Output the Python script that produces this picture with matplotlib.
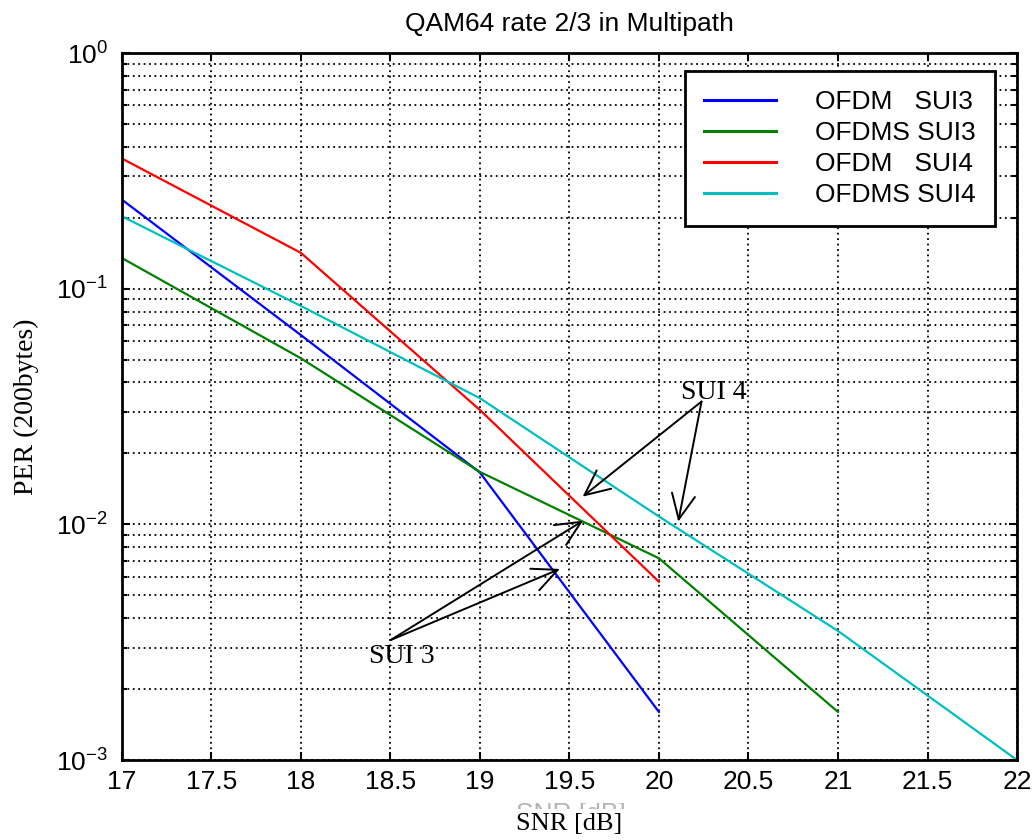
import numpy as np
import matplotlib
matplotlib.use('Agg')
import matplotlib.pyplot as plt
from matplotlib.ticker import FixedLocator, FormatStrFormatter, LogLocator
from matplotlib.transforms import Bbox, TransformedBbox

plt.rcParams['font.family'] = 'Liberation Sans'
plt.rcParams['mathtext.fontset'] = 'custom'
plt.rcParams['mathtext.rm'] = 'Liberation Sans'
plt.rcParams['mathtext.default'] = 'regular'

# data
snr_ofdm_sui3 = [17, 18, 19, 20]
per_ofdm_sui3 = [0.239, 0.0636, 0.0166, 0.0016]

snr_ofdms_sui3 = [17, 18, 19, 20, 21]
per_ofdms_sui3 = [0.135, 0.0507, 0.0167, 0.00718, 0.0016]

snr_ofdm_sui4 = [17, 18, 19, 20]
per_ofdm_sui4 = [0.357, 0.142, 0.0306, 0.00571]

snr_ofdms_sui4 = [17, 18, 19, 20, 21, 22]
per_ofdms_sui4 = [0.203, 0.0845, 0.0343, 0.0108, 0.00353, 0.001]

labels = ['OFDM   SUI3', 'OFDMS SUI3', 'OFDM   SUI4', 'OFDMS SUI4']
colors = ['#0000ff', '#008000', '#ff0000', '#00bfbf']

xticks = np.arange(17, 22.01, 0.5)

fig = plt.figure(figsize=(10.36, 8.4), dpi=100)
ax = fig.add_axes([0.1175, 0.0952, 0.8642, 0.8417])

ax.plot(snr_ofdm_sui3, per_ofdm_sui3, color=colors[0], lw=1.6, label=labels[0])
ax.plot(snr_ofdms_sui3, per_ofdms_sui3, color=colors[1], lw=1.6, label=labels[1])
ax.plot(snr_ofdm_sui4, per_ofdm_sui4, color=colors[2], lw=1.6, label=labels[2])
ax.plot(snr_ofdms_sui4, per_ofdms_sui4, color=colors[3], lw=1.6, label=labels[3])

ax.set_yscale('log')
ax.set_xlim(17, 22)
ax.set_ylim(1e-3, 1)
ax.xaxis.set_major_locator(FixedLocator(xticks))
ax.xaxis.set_major_formatter(FormatStrFormatter('%g'))
ax.yaxis.set_major_locator(LogLocator(base=10, numticks=10))
ax.yaxis.set_minor_locator(LogLocator(base=10, subs=np.arange(2, 10), numticks=20))

ax.grid(True, which='major', axis='x', color='black', linestyle=(0, (1, 2)), lw=1.3)
ax.grid(True, which='both', axis='y', color='black', linestyle=(0, (1, 2)), lw=1.3)

ax.tick_params(which='both', direction='in', top=True, right=True, width=1.5,
               labelsize=19, colors='black')
ax.tick_params(which='major', length=6, pad=7)
ax.tick_params(axis='y', which='major', pad=10)
ax.tick_params(which='minor', length=3.5)
for s in ax.spines.values():
    s.set_linewidth(2)

ax.set_title('QAM64 rate 2/3 in Multipath', fontsize=19, pad=16)
ax.set_ylabel('PER (200bytes)', family='Liberation Serif', fontsize=20, labelpad=12)
ax.set_xlabel('SNR [dB]', family='Liberation Serif', fontsize=19, labelpad=14)

# leftover of an older axis label: only the tops of its letters show
ghost = fig.text(0.551, 0.0455, 'SNR [dB]', fontsize=19, color='#b4b4b4', ha='center', va='top')
ghost.set_clip_box(TransformedBbox(Bbox([[0.45, 0.0375], [0.65, 0.0440]]), fig.transFigure))
ghost.set_clip_on(True)

leg = ax.legend(loc='upper right', bbox_to_anchor=(0.9754, 0.9745), borderaxespad=0,
                fontsize=19, fancybox=False, framealpha=1, edgecolor='black',
                handlelength=2.73, handletextpad=1.5, labelspacing=0.27, borderpad=0.72)
leg.get_frame().set_linewidth(2)
for ln in leg.get_lines():
    ln.set_linewidth(2.2)

# arrows and notes
arr = dict(arrowstyle='->,head_length=0.6,head_width=0.28', color='black', lw=1.4,
           mutation_scale=30, shrinkA=0, shrinkB=0)
ax.annotate('', xy=(19.574, 0.01311), xytext=(20.238, 0.0332), arrowprops=arr)
ax.annotate('', xy=(20.108, 0.01027), xytext=(20.238, 0.0332), arrowprops=arr)
ax.annotate('', xy=(19.577, 0.01037), xytext=(18.502, 0.00323), arrowprops=arr)
ax.annotate('', xy=(19.447, 0.00647), xytext=(18.502, 0.00323), arrowprops=arr)
ax.text(20.307, 0.0361, 'SUI 4', family='Liberation Serif', fontsize=20, ha='center', va='center')
ax.text(18.565, 0.00274, 'SUI 3', family='Liberation Serif', fontsize=20, ha='center', va='center')

fig.savefig('out.png', dpi=100)
